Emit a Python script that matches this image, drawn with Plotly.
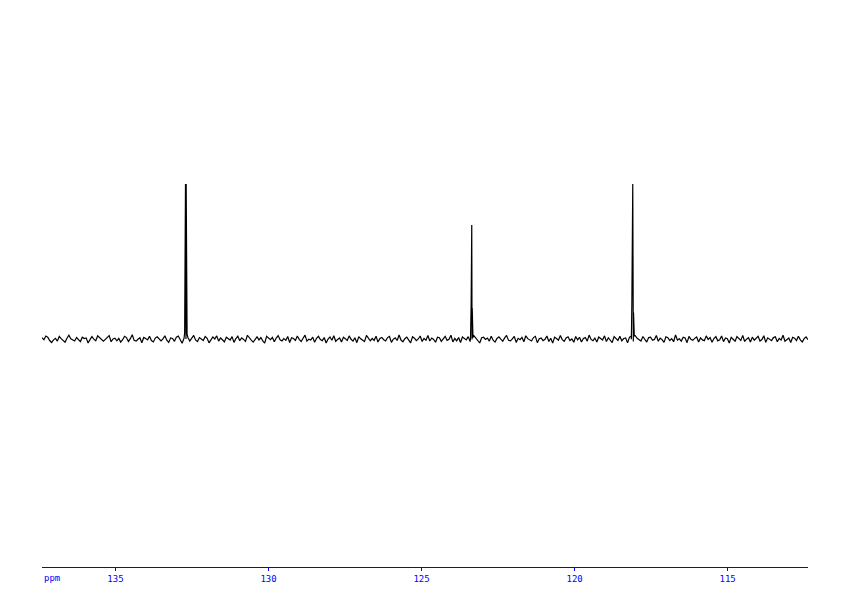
import plotly.graph_objects as go

# ---- data ----
ppm_start = 137.40
ppm_end = 112.375

noise = [
    0.8, -0.5, 1.9, 1.2, -1.0, -2.3, -0.6, 0.4, -1.4, 1.6, 0.2, -0.9, -2.1, 0.5, 2.4, 0.1, -0.8, -1.3, 0.9, -0.2,
    -1.7, 1.1, 0.3, 0.7, -2.6, -0.4, 1.5, -0.1, -1.1, 2.0, 0.6, -0.7, -1.5, -0.3, 1.3, 2.2, -1.8, 0.0, 0.5, -1.2,
    0.4, -2.0, -0.5, 1.7, 0.9, -1.6, 0.2, 2.7, -0.9, -1.4, -0.2, 0.8, -2.4, 1.0, 0.3, -0.6, 1.8, -1.0, -1.9, 0.6,
    1.4, -0.3, -1.2, 0.1, 2.1, -0.8, -2.2, 0.7, 0.3, -1.5, 1.2, 1.9, -0.4, -2.8, 0.5, -0.1, 1.0, -1.3, 0.8, 2.3,
    -0.6, -1.7, 0.9, -0.2, -1.0, 1.6, 0.4, -2.5, -0.9, 1.3, 0.0, 2.0, -1.4, 0.6, -0.5, -1.9, 1.1, 0.2, -0.7, 1.5,
    -2.2, 0.3, 1.8, -1.1, 0.7, -0.3, -1.6, 2.4, 0.5, -0.8, -2.0, 0.1, 1.4, -0.6, 0.9, -1.2, -2.7, 1.7, 0.4, -0.4,
    1.0, -1.8, 0.6, 2.2, -0.5, -1.3, 0.2, -0.9, 1.6, -2.3, 0.8, 0.3, -1.0, 1.9, -0.2, -1.6, 0.5, 2.5, -1.4, -0.1,
    -0.7, 1.2, -2.1, 0.4, 1.7, -0.4, -1.1, 0.9, -2.6, 0.0, 1.3, -0.8, 2.1, -1.5, -0.3, 0.7, -1.9, 1.1, 0.2, -1.0,
    2.0, -0.2, -1.4, 0.8, -2.4, 1.5, 0.1, -0.6, -1.7, 2.3, 0.6, -1.2, 0.3, -0.9, 1.8, -2.0, 0.4, 1.0, -0.5, -1.3,
    0.9, 1.6, -2.2, -0.1, 0.7, -1.0, 2.6, -0.7, -1.8, 0.2, 1.2, -0.4, -2.5, 1.4, 0.5, -1.1, 0.0, 1.9, -1.6, 0.3,
    -0.8, 2.2, -1.3, 0.6, -0.3, -2.1, 1.1, 0.8, -1.5, 0.1, 1.7, -0.9, -0.2, 2.4, -1.9, 0.4, -1.2, 0.9, -2.3, 1.3,
    0.2, -0.6, 1.5, -1.7, -0.4, 2.0, 0.5, -1.0, -2.6, 0.8, 1.1, -0.3, 0.6, -1.4, 1.8, -0.8, -2.0, 0.3, 1.4, -0.1,
    -1.5, 0.7, 2.3, -0.9, -1.2, 0.0, 1.6, -2.2, 0.4, -0.5, 1.0, -1.8, 2.1, 0.2, -0.7, -1.3, 0.9, 1.7, -2.4, 0.1,
    0.6, -1.1, -0.2, 1.9, -1.6, 0.5, -2.7, 1.2, 0.3, -0.8, 2.2, -0.4, -1.5, 0.7, 1.4, -1.0, 0.0, -2.1, 1.6, -0.6,
    1.1, -2.0, 0.4, 0.9, -1.4, 2.5, -0.3, -1.1, 0.6, -1.9, 1.3, 0.1, -0.7, 2.0, -1.6, 0.8, -0.5, -2.3, 1.5, 0.2,
    -0.9, 1.8, -1.2, 0.3, 0.7, -2.5, 1.0, -0.1, -1.7, 2.1, 0.4, -0.6, -1.3, 1.6, 0.0, -2.0, 0.9, 1.2, -0.8, -0.3,
    2.2, -1.5, 0.5, -0.4, -2.2, 1.4, 0.8, -1.0, 0.2, -1.8, 2.6, -0.7, 0.1, -1.4, 1.1, 0.6, -2.4, 1.7, -0.2, -0.9,
    0.4, 1.3, -1.9, 0.7, -0.6, -1.1, 2.0, -0.3, 0.9, -2.1, 0.3, 1.5, -1.2, -0.5, 1.9, -1.7, 0.6, 0.1, -2.6, 1.0,
    -0.2, -1.4, 1.6, 0.5, -0.9, 2.3, -1.6, -0.1, 0.8, -2.0, 1.2, -0.8, 0.4, 1.7, -1.3, -0.4, 2.1, -2.2, 0.7, 0.0,
    -1.1, 0.9, 1.4, -1.8, 0.3, -0.7, 2.4, -1.5, -0.2, 0.6, -2.3, 1.1, 0.5, -1.0, 1.8, -0.6, -1.9, 0.2, 1.3, -0.5,
]

peak_ppm = [132.74, 132.712, 132.69, 132.66,
            123.40, 123.38, 123.36, 123.345, 123.32,
            118.15, 118.13, 118.10, 118.075, 118.05]
peak_int = [4.0, 100.0, 100.0, 3.0,
            1.0, 22.0, 73.5, 20.0, 1.0,
            2.0, 22.0, 100.0, 17.0, 2.0]

tick_vals = [135, 130, 125, 120, 115]
tick_text = ["135", "130", "125", "120", "115"]
axis_unit = "ppm"

# ---- assemble spectrum ----
n = len(noise)
step = (ppm_start - ppm_end) / (n - 1)
grid_ppm = [ppm_start - i * step for i in range(n)]
pts = list(zip(grid_ppm, noise)) + list(zip(peak_ppm, peak_int))
pts.sort(key=lambda p: -p[0])
x = [p[0] for p in pts]
y = [p[1] for p in pts]

blue = "#0000ff"

fig = go.Figure()
fig.add_trace(go.Scatter(x=x, y=y, mode="lines",
                         line=dict(color="black", width=1.2),
                         hoverinfo="skip", showlegend=False))

fig.update_layout(
    width=826, height=588,
    margin=dict(l=34, r=26, t=0, b=29),
    paper_bgcolor="white", plot_bgcolor="white",
    xaxis=dict(
        range=[ppm_start, ppm_end],
        tickmode="array", tickvals=tick_vals, ticktext=tick_text,
        showline=True, linecolor=blue, linewidth=1,
        ticks="outside", ticklen=3, tickcolor=blue, tickwidth=1,
        tickfont=dict(family="DejaVu Sans Mono", size=9, color=blue),
        showgrid=False, zeroline=False,
    ),
    yaxis=dict(range=[-147.1, 213.5], visible=False, showgrid=False, zeroline=False),
    annotations=[dict(
        text=axis_unit, xref="paper", yref="paper", x=0, y=0,
        xanchor="left", yanchor="top", yshift=-4, showarrow=False,
        font=dict(family="DejaVu Sans Mono", size=9, color=blue),
    )],
)

fig.write_html("out.html")
